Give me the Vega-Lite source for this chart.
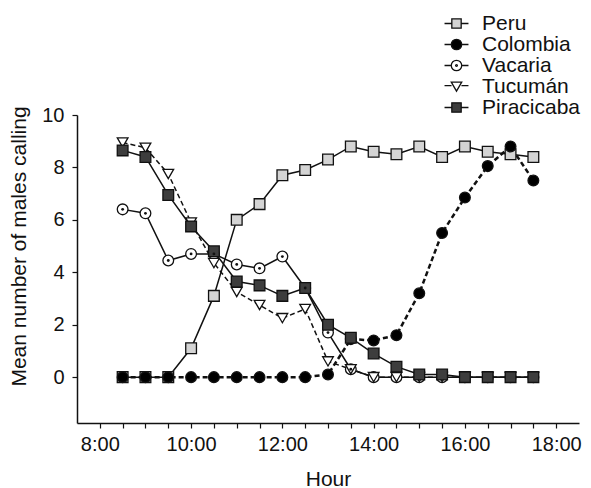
{
  "$schema": "https://vega.github.io/schema/vega-lite/v6.json",
  "width": 502,
  "height": 308,
  "autosize": {"type": "none"},
  "padding": {"left": 77, "top": 115, "right": 12, "bottom": 65},
  "background": "white",
  "config": {
    "view": {"stroke": null},
    "font": "Liberation Sans",
    "axis": {
      "grid": false,
      "domainColor": "#111",
      "domainWidth": 1.5,
      "tickColor": "#111",
      "tickWidth": 1.2,
      "tickSize": 5,
      "labelFont": "Liberation Sans",
      "labelFontSize": 20,
      "labelColor": "#111",
      "titleFont": "Liberation Sans",
      "titleFontSize": 21,
      "titleFontWeight": "normal",
      "titleColor": "#111"
    },
    "legend": {
      "labelFont": "Liberation Sans",
      "labelFontSize": 21,
      "labelColor": "#111"
    }
  },
  "resolve": {"scale": {"shape": "independent", "color": "independent"}},
  "data": {
    "values": [
      {"site": "Vacaria", "hour": 8.5, "value": 6.4},
      {"site": "Vacaria", "hour": 9, "value": 6.25},
      {"site": "Vacaria", "hour": 9.5, "value": 4.45},
      {"site": "Vacaria", "hour": 10, "value": 4.7},
      {"site": "Vacaria", "hour": 10.5, "value": 4.7},
      {"site": "Vacaria", "hour": 11, "value": 4.3},
      {"site": "Vacaria", "hour": 11.5, "value": 4.15},
      {"site": "Vacaria", "hour": 12, "value": 4.6},
      {"site": "Vacaria", "hour": 12.5, "value": 3.4},
      {"site": "Vacaria", "hour": 13, "value": 1.7},
      {"site": "Vacaria", "hour": 13.5, "value": 0.3},
      {"site": "Vacaria", "hour": 14, "value": 0},
      {"site": "Vacaria", "hour": 14.5, "value": 0},
      {"site": "Vacaria", "hour": 15, "value": 0},
      {"site": "Vacaria", "hour": 15.5, "value": 0},
      {"site": "Vacaria", "hour": 16, "value": 0},
      {"site": "Vacaria", "hour": 16.5, "value": 0},
      {"site": "Vacaria", "hour": 17, "value": 0},
      {"site": "Vacaria", "hour": 17.5, "value": 0},
      {"site": "Tucumán", "hour": 8.5, "value": 8.95},
      {"site": "Tucumán", "hour": 9, "value": 8.75},
      {"site": "Tucumán", "hour": 9.5, "value": 7.75},
      {"site": "Tucumán", "hour": 10, "value": 5.9},
      {"site": "Tucumán", "hour": 10.5, "value": 4.35},
      {"site": "Tucumán", "hour": 11, "value": 3.25},
      {"site": "Tucumán", "hour": 11.5, "value": 2.75},
      {"site": "Tucumán", "hour": 12, "value": 2.25},
      {"site": "Tucumán", "hour": 12.5, "value": 2.6},
      {"site": "Tucumán", "hour": 13, "value": 0.6},
      {"site": "Tucumán", "hour": 13.5, "value": 0.3},
      {"site": "Tucumán", "hour": 14, "value": 0},
      {"site": "Tucumán", "hour": 14.5, "value": 0},
      {"site": "Tucumán", "hour": 15, "value": 0},
      {"site": "Tucumán", "hour": 15.5, "value": 0},
      {"site": "Tucumán", "hour": 16, "value": 0},
      {"site": "Tucumán", "hour": 16.5, "value": 0},
      {"site": "Tucumán", "hour": 17, "value": 0},
      {"site": "Tucumán", "hour": 17.5, "value": 0},
      {"site": "Peru", "hour": 8.5, "value": 0},
      {"site": "Peru", "hour": 9, "value": 0},
      {"site": "Peru", "hour": 9.5, "value": 0},
      {"site": "Peru", "hour": 10, "value": 1.1},
      {"site": "Peru", "hour": 10.5, "value": 3.1},
      {"site": "Peru", "hour": 11, "value": 6.0},
      {"site": "Peru", "hour": 11.5, "value": 6.6},
      {"site": "Peru", "hour": 12, "value": 7.7},
      {"site": "Peru", "hour": 12.5, "value": 7.9},
      {"site": "Peru", "hour": 13, "value": 8.3},
      {"site": "Peru", "hour": 13.5, "value": 8.8},
      {"site": "Peru", "hour": 14, "value": 8.6},
      {"site": "Peru", "hour": 14.5, "value": 8.5},
      {"site": "Peru", "hour": 15, "value": 8.8},
      {"site": "Peru", "hour": 15.5, "value": 8.4},
      {"site": "Peru", "hour": 16, "value": 8.8},
      {"site": "Peru", "hour": 16.5, "value": 8.6},
      {"site": "Peru", "hour": 17, "value": 8.5},
      {"site": "Peru", "hour": 17.5, "value": 8.4},
      {"site": "Colombia", "hour": 8.5, "value": 0},
      {"site": "Colombia", "hour": 9, "value": 0},
      {"site": "Colombia", "hour": 9.5, "value": 0},
      {"site": "Colombia", "hour": 10, "value": 0},
      {"site": "Colombia", "hour": 10.5, "value": 0},
      {"site": "Colombia", "hour": 11, "value": 0},
      {"site": "Colombia", "hour": 11.5, "value": 0},
      {"site": "Colombia", "hour": 12, "value": 0},
      {"site": "Colombia", "hour": 12.5, "value": 0},
      {"site": "Colombia", "hour": 13, "value": 0.1},
      {"site": "Colombia", "hour": 13.5, "value": 1.45},
      {"site": "Colombia", "hour": 14, "value": 1.4},
      {"site": "Colombia", "hour": 14.5, "value": 1.6},
      {"site": "Colombia", "hour": 15, "value": 3.2},
      {"site": "Colombia", "hour": 15.5, "value": 5.5},
      {"site": "Colombia", "hour": 16, "value": 6.85},
      {"site": "Colombia", "hour": 16.5, "value": 8.05},
      {"site": "Colombia", "hour": 17, "value": 8.8},
      {"site": "Colombia", "hour": 17.5, "value": 7.5},
      {"site": "Piracicaba", "hour": 8.5, "value": 8.65},
      {"site": "Piracicaba", "hour": 9, "value": 8.4},
      {"site": "Piracicaba", "hour": 9.5, "value": 6.95},
      {"site": "Piracicaba", "hour": 10, "value": 5.75},
      {"site": "Piracicaba", "hour": 10.5, "value": 4.8},
      {"site": "Piracicaba", "hour": 11, "value": 3.65},
      {"site": "Piracicaba", "hour": 11.5, "value": 3.5},
      {"site": "Piracicaba", "hour": 12, "value": 3.1},
      {"site": "Piracicaba", "hour": 12.5, "value": 3.4},
      {"site": "Piracicaba", "hour": 13, "value": 2.0},
      {"site": "Piracicaba", "hour": 13.5, "value": 1.5},
      {"site": "Piracicaba", "hour": 14, "value": 0.9},
      {"site": "Piracicaba", "hour": 14.5, "value": 0.4},
      {"site": "Piracicaba", "hour": 15, "value": 0.1},
      {"site": "Piracicaba", "hour": 15.5, "value": 0.1},
      {"site": "Piracicaba", "hour": 16, "value": 0},
      {"site": "Piracicaba", "hour": 16.5, "value": 0},
      {"site": "Piracicaba", "hour": 17, "value": 0},
      {"site": "Piracicaba", "hour": 17.5, "value": 0}
    ]
  },
  "encoding": {
    "x": {
      "field": "hour",
      "type": "quantitative",
      "scale": {"domain": [7.5, 18.5], "nice": false, "zero": false},
      "axis": {
        "title": "Hour",
        "values": [8, 8.5, 9, 9.5, 10, 10.5, 11, 11.5, 12, 12.5, 13, 13.5, 14, 14.5, 15, 15.5, 16, 16.5, 17, 17.5, 18],
        "labelExpr": "datum.value % 2 == 0 ? datum.value + ':00' : ''",
        "labelFlush": false,
        "labelOverlap": false,
        "labelPadding": 6,
        "titlePadding": 14
      }
    },
    "y": {
      "field": "value",
      "type": "quantitative",
      "scale": {"domain": [-1.75, 10], "nice": false, "zero": false},
      "axis": {
        "title": "Mean number of males calling",
        "values": [0, 2, 4, 6, 8, 10],
        "labelPadding": 8,
        "titleAngle": 270,
        "titleAlign": "center",
        "titleBaseline": "bottom",
        "titleX": -48,
        "titleY": 131
      }
    }
  },
  "layer": [
    {
      "transform": [{"filter": "datum.site == 'Peru' || datum.site == 'Vacaria' || datum.site == 'Piracicaba'"}],
      "mark": {"type": "line", "color": "#111", "strokeWidth": 1.5},
      "encoding": {"detail": {"field": "site"}}
    },
    {
      "transform": [{"filter": "datum.site == 'Tucumán'"}],
      "mark": {"type": "line", "color": "#111", "strokeWidth": 1.5, "strokeDash": [5, 3]},
      "encoding": {"detail": {"field": "site"}}
    },
    {
      "transform": [{"filter": "datum.site == 'Colombia'"}],
      "mark": {"type": "line", "color": "#111", "strokeWidth": 2.5, "strokeDash": [5, 3]},
      "encoding": {"detail": {"field": "site"}}
    },
    {
      "mark": {"type": "point", "filled": true, "stroke": "#111", "strokeWidth": 1.3, "size": 115, "opacity": 1},
      "encoding": {
        "color": {
          "field": "site",
          "type": "nominal",
          "scale": {
            "domain": ["Peru", "Colombia", "Vacaria", "Tucumán", "Piracicaba"],
            "range": ["#d4d4d4", "#000000", "#ffffff", "#ffffff", "#3d3d3d"]
          },
          "legend": null
        },
        "shape": {
          "field": "site",
          "type": "nominal",
          "scale": {
            "domain": ["Peru", "Colombia", "Vacaria", "Tucumán", "Piracicaba"],
            "range": ["square", "circle", "circle", "triangle-down", "square"]
          },
          "legend": null
        }
      }
    },
    {
      "transform": [{"filter": "datum.site == 'Vacaria' && datum.value > 0.05"}],
      "mark": {"type": "point", "filled": true, "shape": "circle", "size": 8, "color": "#111", "opacity": 1}
    },
    {
      "transform": [{"filter": "false"}],
      "mark": {"type": "point", "filled": true, "stroke": "#111", "strokeWidth": 1.3, "opacity": 1},
      "encoding": {
        "color": {
          "field": "site",
          "type": "nominal",
          "scale": {
            "domain": ["Peru", "Colombia", "Vacaria", "Tucumán", "Piracicaba"],
            "range": ["#d4d4d4", "#000000", "#ffffff", "#ffffff", "#3d3d3d"]
          },
          "legend": {
            "title": null,
            "orient": "none",
            "legendX": 369,
            "legendY": -102,
            "padding": 0,
            "rowPadding": -5,
            "symbolSize": 324,
            "labelOffset": 15,
            "symbolStrokeColor": "#111",
            "symbolStrokeWidth": 1.3
          }
        },
        "shape": {
          "field": "site",
          "type": "nominal",
          "scale": {
            "domain": ["Peru", "Colombia", "Vacaria", "Tucumán", "Piracicaba"],
            "range": [
              "M-1.33,0H-0.52M0.52,0H1.33M-0.52,-0.52H0.52V0.52H-0.52Z",
              "M-1.33,0H-0.58M0.58,0H1.33M-0.58,0A0.58,0.58,0,1,0,0.58,0A0.58,0.58,0,1,0,-0.58,0Z",
              "M-1.33,0H-0.58M0.58,0H1.33M-0.58,0A0.58,0.58,0,1,0,0.58,0A0.58,0.58,0,1,0,-0.58,0ZM-0.1,0A0.1,0.1,0,1,0,0.1,0A0.1,0.1,0,1,0,-0.1,0Z",
              "M-1.33,-0.1H-0.55M0.55,-0.1H1.33M-0.58,-0.48H0.58L0,0.52Z",
              "M-1.33,0H-0.52M0.52,0H1.33M-0.52,-0.52H0.52V0.52H-0.52Z"
            ]
          },
          "legend": null
        }
      }
    }
  ]
}
